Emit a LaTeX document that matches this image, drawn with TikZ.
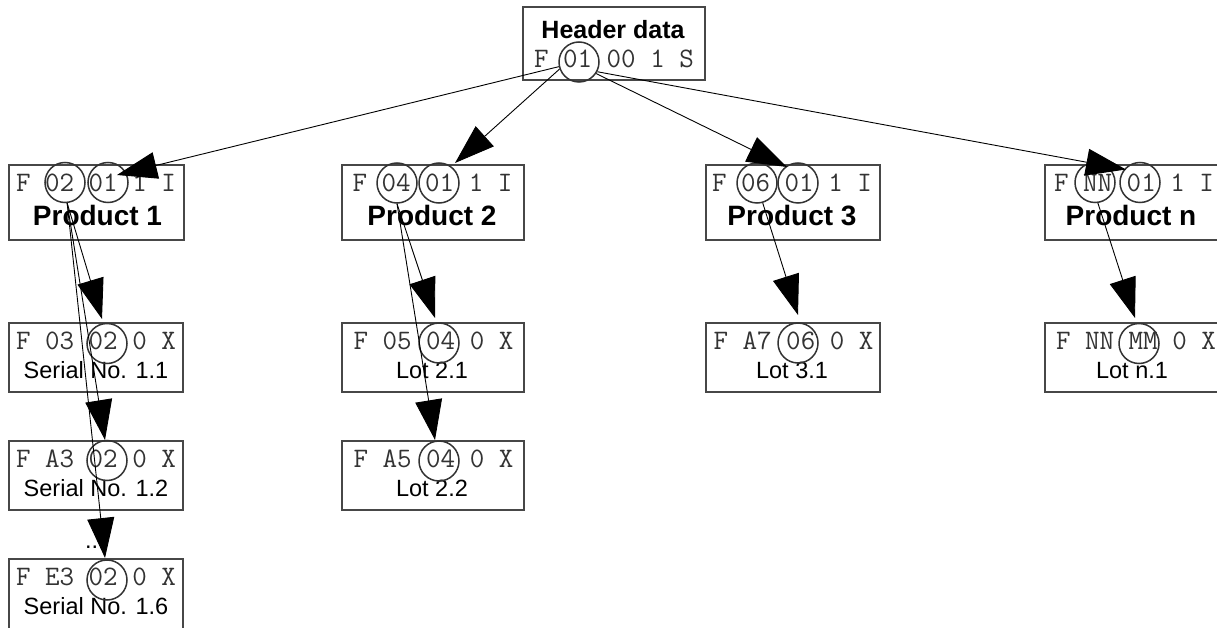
\documentclass[tikz,border=0pt]{standalone}
\usepackage{fontspec}
\setmainfont{Liberation Sans}
\usetikzlibrary{arrows.meta}
\begin{document}
\begin{tikzpicture}[x=1pt,y=-1pt,
  box/.style={draw=black!72, line width=1.2pt, inner sep=0pt, minimum height=#1},
  box/.default=75pt,
  ring/.style={draw=black!80, line width=1.5pt, circle, inner sep=0pt, minimum size=40pt},
  mono/.style={font=\ttfamily\fontsize{28.2}{30}\selectfont, text=black!80, inner sep=0pt, anchor=base},
  bold/.style={font=\bfseries\fontsize{28}{30}\selectfont, inner sep=0pt, anchor=base},
  lab/.style={font=\fontsize{23.5}{26}\selectfont, inner sep=0pt, anchor=base},
  arr/.style={line width=0.9pt, -{Triangle[length=40pt,width=27pt]}}]
\useasboundingbox (0,0) rectangle (1217,628);
\clip (0,0) rectangle (1217,628);

% header
\node[box=73pt, minimum width=182pt] (hb) at (614,43.5) {};
\node[bold, font=\bfseries\fontsize{25}{30}\selectfont] (hl) at (613,39) {Header data};
\node[mono] (hr) at (614,68) {F 01 00 1 S};
\node[ring, minimum height=39pt] (hc) at (579,62) {};

% products
\node[box, minimum width=175pt] (p1) at (96.5,202.5) {};
\node[mono] (p1r) at (96,192) {F 02 01 1 I};
\node[bold] (p1l) at (97.5,226) {Product 1};
\node[ring] (p1a) at (65,182.5) {};
\node[ring] (p1b) at (108,182.5) {};

\node[box, minimum width=182pt] (p2) at (433,202.5) {};
\node[mono] (p2r) at (432.5,192) {F 04 01 1 I};
\node[bold] (p2l) at (432,226) {Product 2};
\node[ring] (p2a) at (397,183) {};
\node[ring] (p2b) at (439,183) {};

\node[box, minimum width=174pt] (p3) at (793,202.5) {};
\node[mono] (p3r) at (792,192) {F 06 01 1 I};
\node[bold] (p3l) at (792,226) {Product 3};
\node[ring] (p3a) at (757,183) {};
\node[ring] (p3b) at (798,183) {};

\node[box, minimum width=180pt] (pn) at (1135,202.5) {};
\node[mono] (pnr) at (1134,192) {F NN 01 1 I};
\node[bold] (pnl) at (1131,226) {Product n};
\node[ring] (pna) at (1095,182.5) {};
\node[ring] (pnb) at (1140,182.5) {};

% serials of product 1
\node[box=69pt, minimum width=174pt] (s1) at (96,357.5) {};
\node[mono] (s1r) at (96,349) {F 03 02 0 X};
\node[lab] (s1l) at (96,378) {Serial No. 1.1};
\node[ring] (s1c) at (107,343.5) {};

\node[box=69pt, minimum width=174pt] (s2) at (96,475.5) {};
\node[mono] (s2r) at (96,467) {F A3 02 0 X};
\node[lab] (s2l) at (96,496) {Serial No. 1.2};
\node[ring] (s2c) at (107,460.5) {};

\node[lab] (dots) at (95,548) {...};

\node[box=72pt, minimum width=174pt] (s6) at (96,595) {};
\node[mono] (s6r) at (96,585.5) {F E3 02 0 X};
\node[lab] (s6l) at (96,614.5) {Serial No. 1.6};
\node[ring] (s6c) at (107,580) {};

% lots of product 2
\node[box=69pt, minimum width=182pt] (l21) at (433,357.5) {};
\node[mono] (l21r) at (433.5,349) {F 05 04 0 X};
\node[lab] (l21l) at (432,378) {Lot 2.1};
\node[ring] (l21c) at (439,343) {};

\node[box=69pt, minimum width=182pt] (l22) at (433,475.5) {};
\node[mono] (l22r) at (433.5,467) {F A5 04 0 X};
\node[lab] (l22l) at (432,496) {Lot 2.2};
\node[ring] (l22c) at (439,461) {};

% lot of product 3
\node[box=69pt, minimum width=174pt] (l31) at (793,357.5) {};
\node[mono] (l31r) at (793.5,349) {F A7 06 0 X};
\node[lab] (l31l) at (792,378) {Lot 3.1};
\node[ring] (l31c) at (798,343) {};

% lot of product n
\node[box=69pt, minimum width=180pt] (ln1) at (1135,357.5) {};
\node[mono] (ln1r) at (1136,349) {F NN MM 0 X};
\node[lab] (ln1l) at (1132,378) {Lot n.1};
\node[ring] (ln1c) at (1139,343.5) {};

% connectors
\draw[arr] (hc.193) -- ([shift={(9,-7.5)}]p1b.center);
\draw[arr] (hc.200) -- ([shift={(16,-20)}]p2b.center);
\draw[arr] (hc.326) -- ([shift={(-11,-16)}]p3b.center);
\draw[arr] (hc.332) -- ([shift={(-14,-13)}]pnb.center);

\draw[arr] (p1a.276) -- ([shift={(-5,-24.5)}]s1c.center);
\draw[arr] (p1a.276) -- ([shift={(-2,-20.5)}]s2c.center);
\draw[arr] (p1a.276) -- ([shift={(-2,-22)}]s6c.center);

\draw[arr] (p2a.270) -- ([shift={(-4,-25)}]l21c.center);
\draw[arr] (p2a.270) -- ([shift={(-4,-21)}]l22c.center);

\draw[arr] (p3a.286) -- ([shift={(0,-28)}]l31c.center);

\draw[arr] (pna.278) -- ([shift={(-4,-25.5)}]ln1c.center);
\end{tikzpicture}
\end{document}
